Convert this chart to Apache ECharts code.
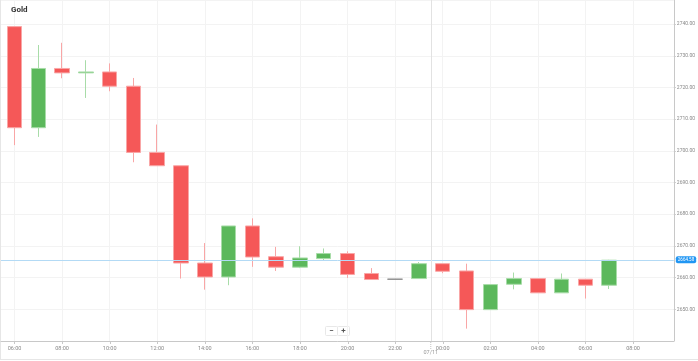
<!DOCTYPE html>
<html><head><meta charset="utf-8">
<script src="https://cdn.jsdelivr.net/npm/echarts@6/dist/echarts.min.js"></script>
<style>html,body{margin:0;padding:0;background:#fff}#c{width:698px;height:361px}</style>
</head><body><div id="c"></div>
<script>
// hourly candles, 06 Nov 2024 06:00 -> 07 Nov 2024 07:00 (UTC)
const times = [
  '2024-11-06T06:00:00Z','2024-11-06T07:00:00Z','2024-11-06T08:00:00Z','2024-11-06T09:00:00Z',
  '2024-11-06T10:00:00Z','2024-11-06T11:00:00Z','2024-11-06T12:00:00Z','2024-11-06T13:00:00Z',
  '2024-11-06T14:00:00Z','2024-11-06T15:00:00Z','2024-11-06T16:00:00Z','2024-11-06T17:00:00Z',
  '2024-11-06T18:00:00Z','2024-11-06T19:00:00Z','2024-11-06T20:00:00Z','2024-11-06T21:00:00Z',
  '2024-11-06T22:00:00Z','2024-11-06T23:00:00Z','2024-11-07T00:00:00Z','2024-11-07T01:00:00Z',
  '2024-11-07T02:00:00Z','2024-11-07T03:00:00Z','2024-11-07T04:00:00Z','2024-11-07T05:00:00Z',
  '2024-11-07T06:00:00Z','2024-11-07T07:00:00Z'
];
const opens  = [2739.2,2707.3,2726.0,2724.6,2724.9,2720.4,2699.5,2695.3,2664.6,2660.2,2676.3,2666.6,2663.3,2666.0,2667.6,2661.3,2659.5,2659.7,2664.4,2662.1,2649.9,2657.9,2659.7,2655.2,2659.5,2657.6];
const closes = [2707.3,2726.0,2724.6,2724.9,2720.4,2699.5,2695.3,2664.6,2660.2,2676.3,2666.5,2663.3,2666.2,2667.6,2661.0,2659.4,2659.5,2664.4,2662.0,2649.9,2657.8,2659.7,2655.2,2659.5,2657.6,2665.5];
const lows   = [2701.8,2704.4,2722.9,2716.7,2718.8,2696.4,2695.3,2659.7,2656.2,2657.6,2663.4,2662.1,2663.0,2665.5,2659.9,2659.4,2659.5,2659.7,2661.4,2643.9,2649.9,2656.3,2655.2,2655.2,2653.4,2656.4];
const highs  = [2739.2,2733.4,2734.1,2728.6,2727.6,2723.0,2708.3,2695.3,2670.9,2676.3,2678.7,2669.7,2669.9,2669.2,2668.3,2663.0,2659.5,2664.9,2664.4,2664.4,2657.8,2661.6,2659.7,2661.3,2659.5,2665.6];
// x tick positions (every 2 hours)
const xTicks = [
  '2024-11-06T06:00:00Z','2024-11-06T08:00:00Z','2024-11-06T10:00:00Z','2024-11-06T12:00:00Z',
  '2024-11-06T14:00:00Z','2024-11-06T16:00:00Z','2024-11-06T18:00:00Z','2024-11-06T20:00:00Z',
  '2024-11-06T22:00:00Z','2024-11-07T00:00:00Z','2024-11-07T02:00:00Z','2024-11-07T04:00:00Z',
  '2024-11-07T06:00:00Z','2024-11-07T08:00:00Z'
];
const priceLevel = 2665.6;
const priceLabel = '2664.58';
const dayBoundary = '2024-11-06T23:30:00Z';
const dayLabel = '07/11';
const title = 'Gold';

const pad = n => (n < 10 ? '0' : '') + n;
const data = times.map((t, i) => [t, opens[i], closes[i], lows[i], highs[i]]);

const chart = echarts.init(document.getElementById('c'), null, {renderer: 'canvas'});
const FONT = 'Roboto, "Liberation Sans", sans-serif';
const TWO_H = 2 * 3600 * 1000;
const option = {
  animation: false,
  useUTC: true,
  backgroundColor: '#fff',
  textStyle: {fontFamily: FONT},
  title: {text: title, left: 11, top: 6, padding: 0, textStyle: {fontSize: 8, fontWeight: 'bold', color: '#333', fontFamily: FONT}},
  grid: {left: 1, right: 24, top: 0, bottom: 20},
  xAxis: {
    type: 'time',
    min: Date.UTC(2024, 10, 6, 5, 26),
    max: Date.UTC(2024, 10, 7, 9, 43),
    splitNumber: 14,
    minInterval: TWO_H,
    maxInterval: TWO_H,
    axisLine: {lineStyle: {color: '#c8c8c8'}},
    axisTick: {show: false},
    axisLabel: {
      fontSize: 5.5, color: '#888', margin: 5, fontFamily: FONT,
      showMinLabel: false, showMaxLabel: false, hideOverlap: false,
      formatter: v => { const d = new Date(v); if (d.getUTCHours() % 2 || d.getUTCMinutes()) return ''; return pad(d.getUTCHours()) + ':' + pad(d.getUTCMinutes()); }
    },
    splitLine: {show: false}
  },
  yAxis: {
    type: 'value', position: 'right', min: 2640, max: 2747.6, interval: 10,
    axisLine: {show: true, lineStyle: {color: '#c8c8c8'}},
    axisTick: {show: true, length: 2, lineStyle: {color: '#c8c8c8'}},
    axisLabel: {fontSize: 5, color: '#888', margin: 3, fontFamily: FONT, showMinLabel: false, showMaxLabel: false,
      formatter: v => v.toFixed(2)},
    splitLine: {show: true, lineStyle: {color: '#f3f3f3'}}
  },
  series: [
    {
      // vertical grid lines at the 2-hour ticks, drawn beneath the candles
      type: 'line', data: [], z: 1, silent: true,
      markLine: {
        silent: true, symbol: ['none', 'none'], animation: false, z: 1,
        label: {show: false},
        lineStyle: {color: '#f3f3f3', width: 1, type: 'solid'},
        data: xTicks.map(t => ({xAxis: t}))
      }
    },
    {
      type: 'candlestick',
      z: 3,
      barWidth: 15,
      data: data,
      itemStyle: {
        color: '#5cb85c', color0: '#f55858',
        borderColor: '#a8dca8', borderColor0: '#f9a6a6',
        borderColorDoji: '#8a8a8a', borderWidth: 1
      },
      markLine: {
        silent: true, symbol: ['none', 'none'], animation: false,
        data: [
          {yAxis: priceLevel, lineStyle: {color: '#b3daf5', width: 1, type: 'solid', opacity: 1},
           label: {show: true, position: 'end', formatter: priceLabel, backgroundColor: '#2196f3',
                   color: '#fff', fontSize: 4.5, padding: [1, 2], borderRadius: 2, distance: 2, fontFamily: FONT}},
          {xAxis: dayBoundary, lineStyle: {color: '#e2e2e2', width: 1, type: 'solid', opacity: 1},
           label: {show: true, position: 'start', formatter: dayLabel, color: '#999', fontSize: 5.5, distance: 9, fontFamily: FONT}}
        ]
      }
    }
  ]
};
chart.setOption(option);

// decorations positioned from the library scales
const px = chart.convertToPixel({xAxisIndex: 0}, dayBoundary);
const axisY = chart.convertToPixel({yAxisIndex: 0}, 2640);
const tickMarks = xTicks.map(t => {
  const x = Math.round(chart.convertToPixel({xAxisIndex: 0}, t)) + 0.5;
  return {type: 'line', shape: {x1: x, y1: axisY, x2: x, y2: axisY + 3}, style: {stroke: '#c8c8c8', lineWidth: 1}, silent: true};
});
chart.setOption({
  graphic: tickMarks.concat([
    {type: 'line', shape: {x1: px, y1: axisY + 1, x2: px, y2: axisY + 9},
     style: {stroke: '#c4c4c4', lineWidth: 1, lineDash: [1, 1]}, silent: true},
    {type: 'line', shape: {x1: 0.5, y1: 0, x2: 0.5, y2: 359.5}, style: {stroke: '#e6e6e6', lineWidth: 1}, silent: true},
    {type: 'line', shape: {x1: 0, y1: 359.5, x2: 698, y2: 359.5}, style: {stroke: '#e6e6e6', lineWidth: 1}, silent: true},
    {type: 'group', left: 325, top: 326, children: [
      {type: 'rect', shape: {x: 0, y: 0, width: 12, height: 9, r: 1}, style: {fill: '#fff', stroke: '#e8e8e8'}},
      {type: 'rect', shape: {x: 12, y: 0, width: 12, height: 9, r: 1}, style: {fill: '#fff', stroke: '#e8e8e8'}},
      {type: 'text', x: 6, y: 4.5, style: {text: '−', fill: '#555', align: 'center', verticalAlign: 'middle', font: 'bold 8px ' + FONT}},
      {type: 'text', x: 18, y: 4.5, style: {text: '+', fill: '#555', align: 'center', verticalAlign: 'middle', font: 'bold 8px ' + FONT}}
    ]}
  ])
});
</script>
</body></html>
